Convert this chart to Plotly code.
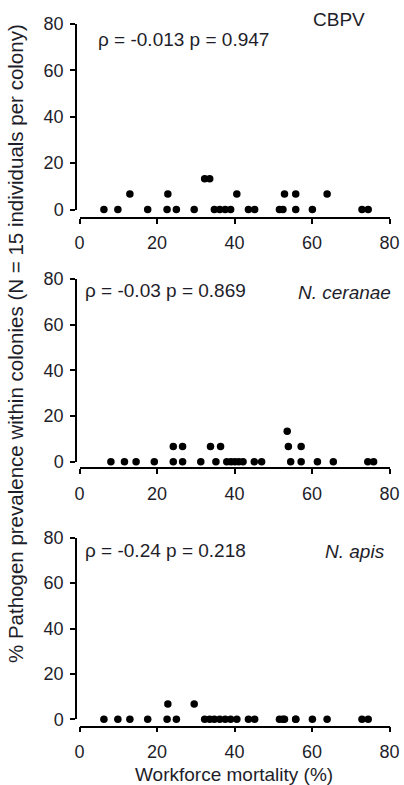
import plotly.graph_objects as go

W, H = 404, 785

# ---- data ----
cbpv_x = [6.3, 9.9, 13.0, 17.6, 22.6, 22.8, 25.0, 29.6, 32.3, 33.6, 34.8, 36.2, 37.6,
          39.0, 40.6, 43.6, 45.2, 51.6, 52.5, 52.9, 55.8, 55.8, 60.1, 63.9, 72.9, 74.5]
cbpv_y = [0, 0, 6.7, 0, 0, 6.7, 0, 0, 13.3, 13.3, 0, 0, 0,
          0, 6.7, 0, 0, 0, 0, 6.7, 0, 6.7, 0, 6.7, 0, 0]

cer_x = [8.1, 11.6, 14.6, 19.3, 24.2, 24.2, 26.6, 26.6, 31.3, 33.8, 35.2, 36.4, 38.0, 39.1,
         40.1, 41.1, 42.2, 45.1, 47.0, 53.6, 53.9, 54.5, 57.2, 57.2, 61.4, 65.5, 74.4, 75.9]
cer_y = [0, 0, 0, 0, 0, 6.7, 0, 6.7, 0, 6.7, 0, 6.7, 0, 0,
         0, 0, 0, 0, 0, 13.3, 6.7, 0, 0, 6.7, 0, 0, 0, 0]

apis_x = [6.3, 9.9, 13.0, 17.6, 22.6, 22.8, 25.0, 29.6, 32.3, 33.6, 34.8, 36.2, 37.6,
          39.0, 40.6, 43.6, 45.2, 51.6, 52.5, 52.9, 55.8, 55.8, 60.1, 63.9, 72.9, 74.5]
apis_y = [0, 0, 0, 0, 0, 6.7, 0, 6.7, 0, 0, 0, 0, 0,
          0, 0, 0, 0, 0, 0, 0, 0, 0, 0, 0, 0, 0]

pathogens = ["CBPV", "N. ceranae", "N. apis"]
stats = ["ρ = -0.013 p = 0.947", "ρ = -0.03 p = 0.869", "ρ = -0.24 p = 0.218"]
x_ticks = [0, 20, 40, 60, 80]
y_ticks = [0, 20, 40, 60, 80]

# ---- layout geometry (pixels) ----
panels = [
    dict(y80=24, y0=209.5, xax=218, stat=(96, 40), name=(367, 20), ital=False),
    dict(y80=279, y0=461.7, xax=468.3, stat=(83, 291), name=(393, 293), ital=True),
    dict(y80=537.7, y0=719.3, xax=726.7, stat=(83, 550), name=(387, 551), ital=True),
]
data = [(cbpv_x, cbpv_y), (cer_x, cer_y), (apis_x, apis_y)]

FONT = "Liberation Sans, Arial, sans-serif"
TXT = "#1e1e2a"
FS = 18

fx = lambda px: px / W
fy = lambda py: 1 - py / H

fig = go.Figure()
layout = dict(width=W, height=H, margin=dict(l=0, r=0, t=0, b=0, pad=0, autoexpand=False),
              autosize=False,
              paper_bgcolor="white", plot_bgcolor="rgba(0,0,0,0)", showlegend=False,
              font=dict(family=FONT, size=FS, color=TXT))
annotations = []

for i, (p, (xs, ys)) in enumerate(zip(panels, data)):
    n = i + 1
    xa = "x" if n == 1 else f"x{n}"
    ya = "y" if n == 1 else f"y{n}"
    fig.add_trace(go.Scatter(x=xs, y=ys, mode="markers", xaxis=xa, yaxis=ya,
                             marker=dict(size=7.5, color="black"), cliponaxis=False,
                             hoverinfo="skip"))
    layout[f"xaxis{'' if n == 1 else n}"] = dict(
        domain=[fx(79.5), fx(389.5)], anchor="free", position=fy(p["xax"]),
        range=[0, 80], tickvals=x_ticks, showline=True, linecolor="black", linewidth=1.5,
        ticks="outside", ticklen=5, tickwidth=1.5, tickcolor="black", showgrid=False,
        zeroline=False, automargin=False, ticklabelstandoff=4,
        tickfont=dict(size=FS, color=TXT, family=FONT))
    layout[f"yaxis{'' if n == 1 else n}"] = dict(
        domain=[fy(p["y0"]), fy(p["y80"])], anchor="free", position=fx(76),
        range=[0, 80], tickvals=y_ticks, showline=True, linecolor="black", linewidth=1.5,
        ticks="outside", ticklen=5, tickwidth=1.5, tickcolor="black", showgrid=False,
        zeroline=False, automargin=False, ticklabelstandoff=3,
        tickfont=dict(size=FS, color=TXT, family=FONT))
    annotations.append(dict(x=fx(p["stat"][0]), y=fy(p["stat"][1]), xref="paper", yref="paper",
                            text=stats[i], showarrow=False, xanchor="left", yanchor="middle",
                            font=dict(size=19, color=TXT, family=FONT)))
    nm = f"<i>{pathogens[i]}</i>" if p["ital"] else pathogens[i]
    annotations.append(dict(x=fx(p["name"][0]), y=fy(p["name"][1]), xref="paper", yref="paper",
                            text=nm, showarrow=False, xanchor="right", yanchor="middle",
                            font=dict(size=19, color=TXT, family=FONT)))

annotations.append(dict(x=fx(234), y=fy(774), xref="paper", yref="paper",
                        text="Workforce mortality (%)", showarrow=False,
                        xanchor="center", yanchor="middle", borderpad=0,
                        font=dict(size=19, color=TXT, family=FONT)))
annotations.append(dict(x=fx(15), y=fy(344), xref="paper", yref="paper",
                        text="% Pathogen prevalence within colonies (N = 15 individuals per colony)",
                        showarrow=False, textangle=-90, xanchor="center", yanchor="middle",
                        font=dict(size=20.5, color=TXT, family=FONT)))
layout["annotations"] = annotations
fig.update_layout(**layout)
fig.write_html("out.html", config={"displayModeBar": False},
               post_script="document.body.style.margin='0';document.body.style.overflow='hidden';")
